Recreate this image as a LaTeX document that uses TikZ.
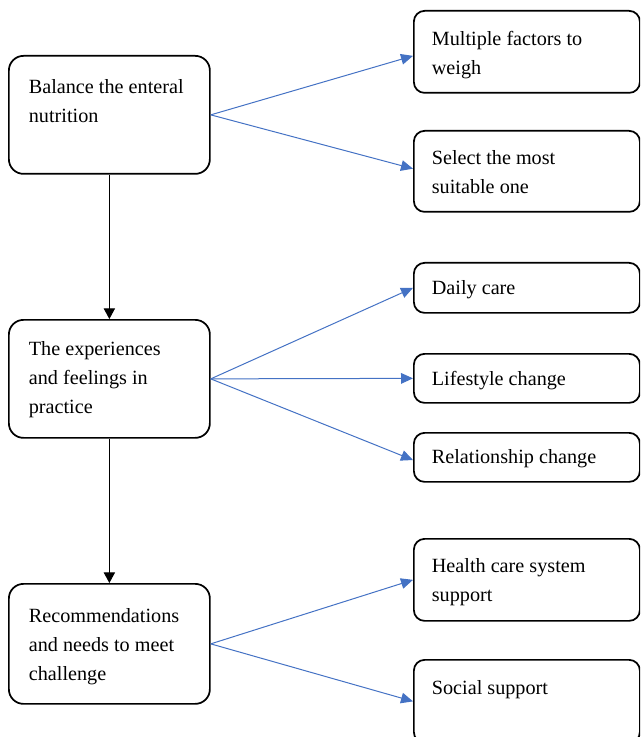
\documentclass[tikz,border=0pt]{standalone}
\usepackage{fontspec}
\setmainfont{Liberation Serif}
\usetikzlibrary{arrows.meta}
\newdimen\pxu \pxu=0.75pt
\newcommand\bxt[4]{\parbox[c][#2\pxu][t]{#1\pxu}{\raggedright\rule{0pt}{#3\pxu}#4}}
\definecolor{connblue}{RGB}{68,114,196}
\begin{document}
\begin{tikzpicture}[x=0.75pt,y=-0.75pt,
  boxbase/.style={draw, line width=1.3pt, inner ysep=0pt, anchor=north west,
    font=\fontsize{15.15pt}{21.75pt}\selectfont},
  lbox/.style={boxbase, rounded corners=11pt, inner xsep=15pt},
  rbox/.style={boxbase, rounded corners=8pt, inner xsep=13.5pt},
  downarrow/.style={-{Triangle[length=8pt,width=8.5pt]}, line width=0.7pt, black},
  sidearrow/.style={-{Triangle[length=9pt,width=8pt]}, line width=0.75pt, connblue}]
\useasboundingbox (0,0) rectangle (640,737);
\clip (0,0) rectangle (640,737);
% left column
\node[lbox] (a) at (8,55) {\bxt{161}{118}{38}{Balance the enteral\\nutrition}};
\node[lbox] (b) at (8,319) {\bxt{161}{118}{36}{The experiences\\and feelings in\\practice}};
\node[lbox] (c) at (8,583) {\bxt{161}{120}{39}{Recommendations\\and needs to meet\\challenge}};
% right column
\node[rbox] (b1) at (413,10) {\bxt{190}{82}{35}{Multiple factors to\\weigh}};
\node[rbox] (b2) at (413,130) {\bxt{190}{81}{34}{Select the most\\suitable one}};
\node[rbox] (c1) at (413,262) {\bxt{190}{50}{32}{Daily care}};
\node[rbox] (c2) at (413,353) {\bxt{190}{49}{32}{Lifestyle change}};
\node[rbox] (c3) at (413,432) {\bxt{190}{49}{31}{Relationship change}};
\node[rbox] (d1) at (413,538) {\bxt{190}{82}{34}{Health care system\\support}};
\node[rbox] (d2) at (413,659) {\bxt{190}{83}{35}{Social support}};
% vertical connectors
\draw[downarrow] (a.south) -- (b.north);
\draw[downarrow] (b.south) -- (c.north);
% side connectors
\draw[sidearrow] (a.east) -- ([yshift=-3pt]b1.west);
\draw[sidearrow] (a.east) -- ([yshift=2pt]b2.west);
\draw[sidearrow] (b.east) -- (c1.west);
\draw[sidearrow] (b.east) -- (c2.west);
\draw[sidearrow] (b.east) -- ([yshift=-2pt]c3.west);
\draw[sidearrow] (c.east) -- (d1.west);
\draw[sidearrow] (c.east) -- (d2.west);
\end{tikzpicture}
\end{document}
